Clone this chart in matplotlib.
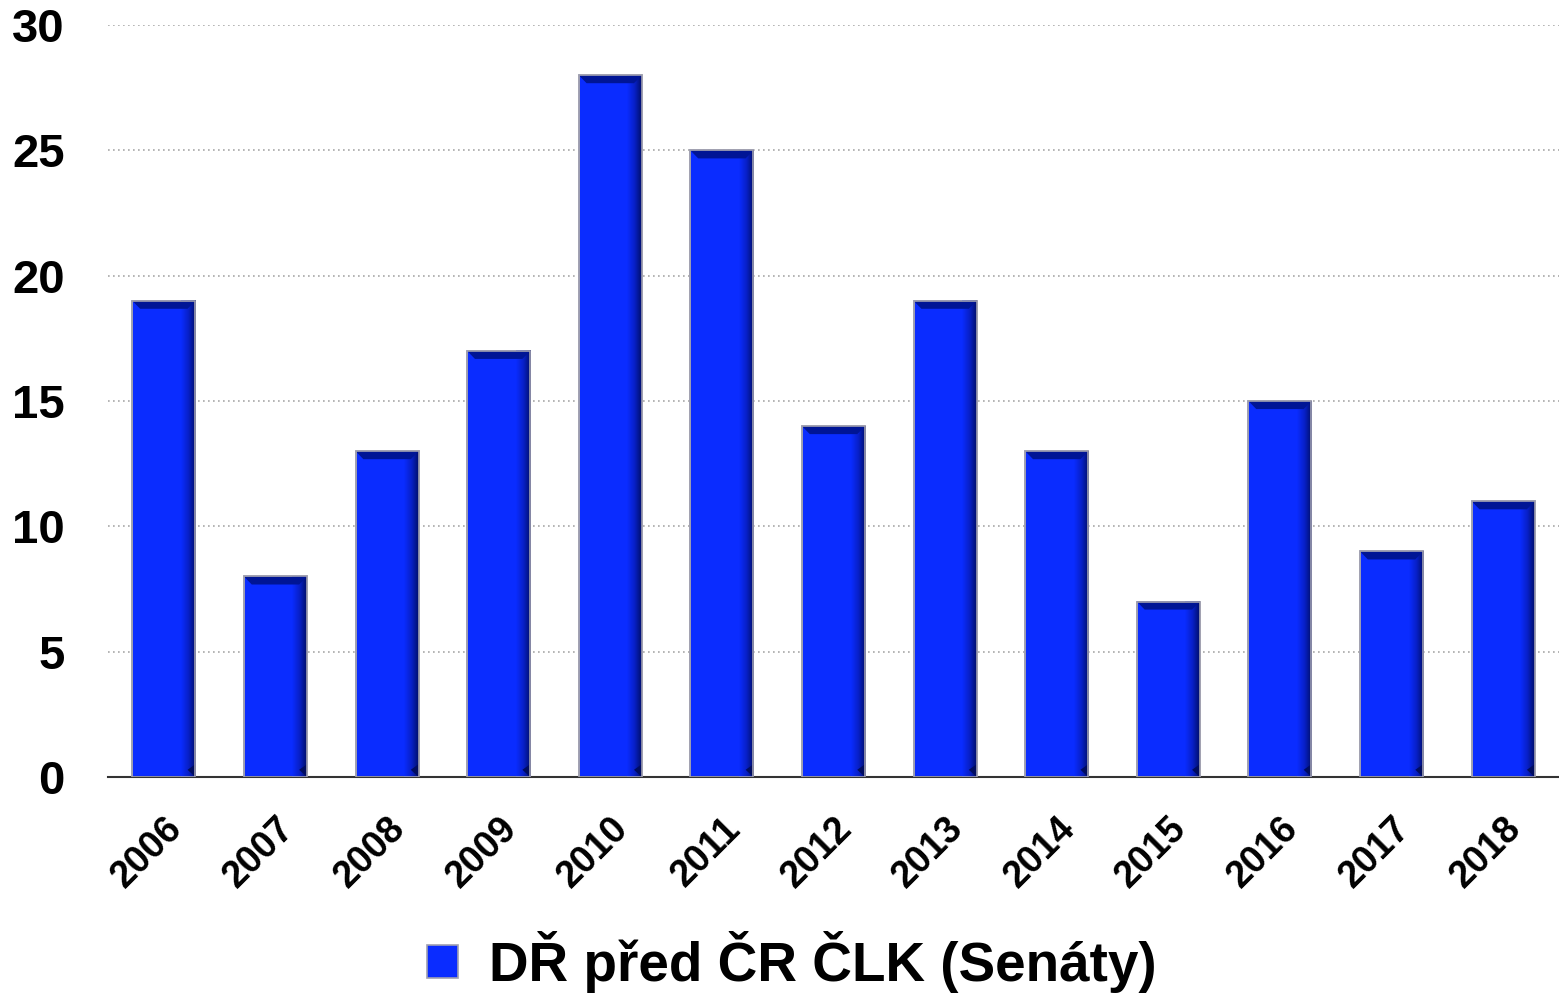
import numpy as np
import matplotlib
matplotlib.use("Agg")
from matplotlib import pyplot as plt
from matplotlib.patches import Polygon
from matplotlib.colors import LinearSegmentedColormap

years = ['2006', '2007', '2008', '2009', '2010', '2011', '2012',
         '2013', '2014', '2015', '2016', '2017', '2018']
values = [19, 8, 13, 17, 28, 25, 14, 19, 13, 7, 15, 9, 11]
series_name = 'DŘ před ČR ČLK (Senáty)'

plt.rcParams['font.family'] = ['Liberation Sans', 'DejaVu Sans']
plt.rcParams['font.weight'] = 'bold'

fig = plt.figure(figsize=(15.59, 9.94), dpi=100)
ax = fig.add_axes([0.0693, 0.2183, 0.9307, 0.7565])

x = np.arange(len(years))
width = 0.565
bars = ax.bar(x, values, width=width, color='#0a2cff', edgecolor='#a0a0b0',
              linewidth=1.2, zorder=2, label=series_name)

# fake bevel: dark top strip and shaded right edge
shade = LinearSegmentedColormap.from_list('shade', ['#0a2cff', '#0820c8', '#000e6a'])
grad = np.linspace(0, 1, 64).reshape(1, -1)
dx = 0.13
dy = 0.32
for xi, v in zip(x, values):
    l, r = xi - width / 2, xi + width / 2
    ax.imshow(grad, cmap=shade, aspect='auto', extent=(r - dx, r, 0, v),
              zorder=3, interpolation='bilinear')
    # top bevel
    ax.add_patch(Polygon([(l, v), (r, v), (r - 0.07, v - dy), (l + 0.07, v - dy)],
                         closed=True, facecolor='#001595', edgecolor='none', zorder=4))
    # bottom-right corner bevel
    ax.add_patch(Polygon([(r - 0.07, dy * 0.9), (r, 0), (r, dy * 1.6)],
                         closed=True, facecolor='#000c60', edgecolor='none', zorder=4))
    ax.add_patch(Polygon([(l, v), (r, v), (r, 0), (l, 0)], closed=True,
                         facecolor='none', edgecolor='#a0a0b0', linewidth=1.2, zorder=5))

ax.set_xlim(-0.5, len(years) - 0.5)
ax.set_ylim(0, 30)
ax.set_yticks(np.arange(0, 31, 5))
ax.set_xticks(x)
ax.set_xticklabels(years, rotation=45, ha='right', va='top',
                   rotation_mode='anchor', fontsize=27, fontweight='bold')
ax.tick_params(axis='y', labelsize=34, length=0, pad=31)
ax.tick_params(axis='x', length=0, pad=24)
for lab in ax.get_yticklabels():
    lab.set_fontweight('bold')

ax.yaxis.grid(True, linestyle=(0, (1, 2)), color='#a8a8a8', linewidth=1.2, zorder=0)
ax.set_axisbelow(True)
for s in ['top', 'right', 'left']:
    ax.spines[s].set_visible(False)
ax.spines['bottom'].set_color('#333333')
ax.spines['bottom'].set_linewidth(1.5)

leg = fig.legend(handles=[bars], labels=[series_name], loc='center',
                 bbox_to_anchor=(0.508, 0.032), frameon=False,
                 handlelength=0.55, handleheight=0.55, handletextpad=0.57,
                 prop={'weight': 'bold', 'size': 39.5})

fig.savefig('out.png', dpi=100)
